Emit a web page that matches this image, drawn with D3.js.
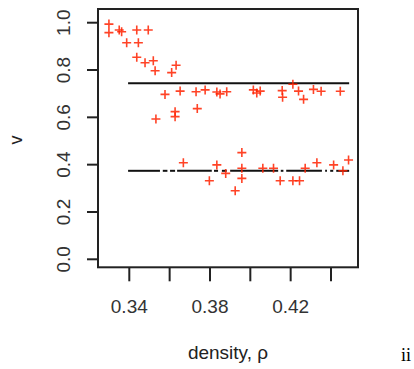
<!DOCTYPE html>
<html>
<head>
<meta charset="utf-8">
<script src="https://cdn.jsdelivr.net/npm/d3@7"></script>
<style>
  body { margin: 0; background: #fff; }
  text { font-family: "Liberation Sans", Arial, Helvetica, sans-serif; }
</style>
</head>
<body>
<svg width="414" height="369"></svg>
<script>
// density values and speeds
var densTop = [0.3299, 0.3299, 0.3350, 0.3362, 0.3437, 0.3494, 0.3387, 0.3445, 0.3437, 0.3478, 0.3519, 0.3528, 0.3610, 0.3632]
var vTop    = [0.994, 0.958, 0.969, 0.962, 0.969, 0.969, 0.915, 0.915, 0.854, 0.831, 0.839, 0.797, 0.789, 0.820]

var densMid = [0.3577, 0.3652, 0.3731, 0.3776, 0.3834, 0.3850, 0.3883, 0.4015, 0.4032, 0.4049, 0.4158, 0.4160, 0.4211, 0.4239, 0.4264, 0.4313, 0.4351, 0.4446]
var vMid    = [0.697, 0.711, 0.708, 0.716, 0.707, 0.699, 0.708, 0.716, 0.703, 0.711, 0.713, 0.685, 0.740, 0.711, 0.676, 0.718, 0.710, 0.710]

var densLowA = [0.3532, 0.3627, 0.3627, 0.3737]
var vLowA    = [0.593, 0.624, 0.603, 0.637]

var densLow = [0.3668, 0.3834, 0.3797, 0.3878, 0.3958, 0.3958, 0.3958, 0.3925, 0.4062, 0.4115, 0.4148, 0.4211, 0.4244, 0.4272, 0.4330, 0.4413, 0.4459, 0.4487]
var vLow    = [0.408, 0.399, 0.332, 0.363, 0.451, 0.385, 0.342, 0.290, 0.385, 0.385, 0.332, 0.332, 0.332, 0.385, 0.408, 0.399, 0.374, 0.420]

// the two fitted levels
var upperLevel = 0.744
var upperRange = [0.3394, 0.4490]
var lowerLevel = 0.374
var lowerSegs = [[0.3394, 0.3552], [0.3566, 0.3589], [0.3602, 0.3627], [0.3637, 0.3809], [0.3820, 0.3840],
                 [0.3859, 0.3883], [0.3900, 0.4138], [0.4151, 0.4164], [0.4178, 0.4355], [0.4371, 0.4380],
                 [0.4396, 0.4411], [0.4426, 0.4490]]

var xTicks = [0.34, 0.36, 0.38, 0.40, 0.42, 0.44]
var xLabels = ["0.34", "", "0.38", "", "0.42", ""]
var yTicks = [0, 0.2, 0.4, 0.6, 0.8, 1.0]
var yLabels = ["0.0", "0.2", "0.4", "0.6", "0.8", "1.0"]

var svg = d3.select("svg")
var boxL = 98, boxR = 358, boxT = 9, boxB = 267.3

var xScale = d3.scaleLinear().domain([0.34, 0.44]).range([129.3, 331])
var yScale = d3.scaleLinear().domain([0, 1]).range([259.3, 22.7])

var pts = []
function addPts(xs, ys) { xs.forEach(function(d, i) { pts.push({x: d, y: ys[i]}) }) }
addPts(densTop, vTop)
addPts(densMid, vMid)
addPts(densLowA, vLowA)
addPts(densLow, vLow)

// horizontal lines
svg.append("line")
    .attr("x1", xScale(upperRange[0])).attr("x2", xScale(upperRange[1]))
    .attr("y1", yScale(upperLevel)).attr("y2", yScale(upperLevel))
    .style("stroke", "#111").style("stroke-width", 2)

svg.append("g").selectAll("line")
    .data(lowerSegs)
    .enter()
    .append("line")
    .attr("x1", function(d) { return xScale(d[0]) })
    .attr("x2", function(d) { return xScale(d[1]) })
    .attr("y1", yScale(lowerLevel)).attr("y2", yScale(lowerLevel))
    .style("stroke", "#111").style("stroke-width", 2)

// red plus markers
var s = 4.5
svg.append("g").selectAll("path")
    .data(pts)
    .enter()
    .append("path")
    .attr("d", function(d) {
        var cx = xScale(d.x), cy = yScale(d.y)
        return "M" + (cx - s) + "," + cy + "H" + (cx + s) + "M" + cx + "," + (cy - s) + "V" + (cy + s)
    })
    .style("fill", "none")
    .style("stroke", "#ff2200")
    .style("stroke-width", 1.6)
    .style("opacity", 0.85)

// box
svg.append("rect")
    .attr("x", boxL).attr("y", boxT)
    .attr("width", boxR - boxL).attr("height", boxB - boxT)
    .style("fill", "none").style("stroke", "#222").style("stroke-width", 2)

// x axis ticks
var xa = svg.append("g")
xa.selectAll("line").data(xTicks).enter().append("line")
    .attr("x1", function(d) { return xScale(d) }).attr("x2", function(d) { return xScale(d) })
    .attr("y1", boxB).attr("y2", boxB + 14)
    .style("stroke", "#222").style("stroke-width", 2)
xa.selectAll("text").data(xTicks).enter().append("text")
    .attr("x", function(d) { return xScale(d) })
    .attr("y", 313)
    .attr("text-anchor", "middle")
    .style("font-size", "19px")
    .style("fill", "#333")
    .text(function(d, i) { return xLabels[i] })

// y axis ticks
var ya = svg.append("g")
ya.selectAll("line").data(yTicks).enter().append("line")
    .attr("x1", boxL - 11).attr("x2", boxL)
    .attr("y1", function(d) { return yScale(d) }).attr("y2", function(d) { return yScale(d) })
    .style("stroke", "#222").style("stroke-width", 2)
ya.selectAll("text").data(yTicks).enter().append("text")
    .attr("transform", function(d) { return "translate(63," + yScale(d) + ")rotate(-90)" })
    .attr("dy", ".35em")
    .attr("text-anchor", "middle")
    .style("font-size", "19px")
    .style("fill", "#333")
    .text(function(d, i) { return yLabels[i] })

// axis titles
svg.append("text")
    .attr("x", (boxL + boxR) / 2)
    .attr("y", 359)
    .attr("text-anchor", "middle")
    .style("font-size", "19px")
    .style("fill", "#222")
    .text("density, ρ")

svg.append("text")
    .attr("transform", "translate(16,140)rotate(-90)")
    .attr("dy", ".35em")
    .attr("text-anchor", "middle")
    .style("font-size", "18px")
    .style("fill", "#222")
    .text("v")

svg.append("text")
    .attr("x", 406)
    .attr("y", 361)
    .attr("text-anchor", "middle")
    .style("font-family", "'Liberation Serif', 'DejaVu Serif', serif")
    .style("font-size", "18px")
    .style("fill", "#000")
    .text("ii")
</script>
</body>
</html>
